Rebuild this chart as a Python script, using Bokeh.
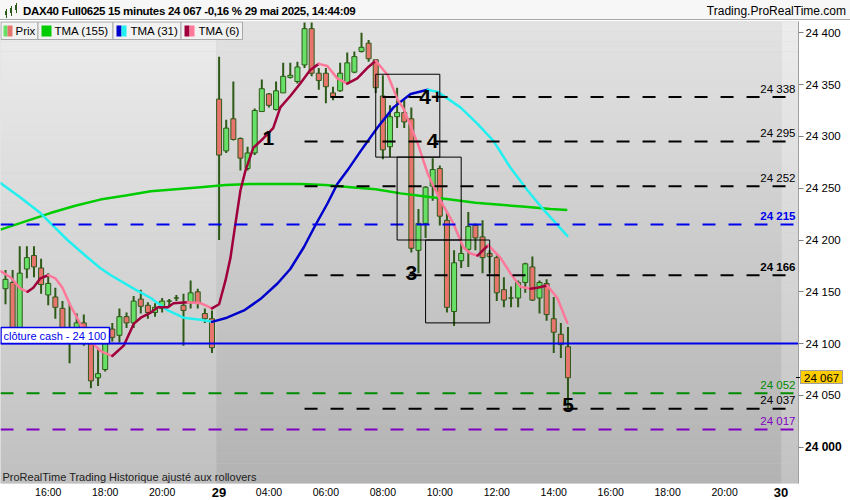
from bokeh.plotting import figure
from bokeh.models import Range1d, FixedTicker, Div
from bokeh.layouts import column
from bokeh.core.properties import value
from bokeh.embed import file_html
from bokeh.resources import INLINE

# ---------------- DAX40 Full0625, 15-minute bars (28 May 14:30 -> 29 May 14:30) ----------------
bar_open = [24153, 24159, 24113, 24172, 24185, 24173, 24147, 24145, 24134, 24110,
            24112, 24120, 24100, 24067, 24075, 24114, 24108, 24126, 24120, 24143,
            24137, 24130, 24134, 24141, 24144, 24137, 24140, 24150, 24129, 24124,
            24336, 24286, 24317, 24298, 24269, 24284, 24324, 24341, 24326, 24342,
            24357, 24353, 24369, 24404, 24361, 24361, 24342, 24344, 24352, 24362,
            24382, 24390, 24374, 24339, 24290, 24319, 24323, 24317, 24190, 24216,
            24252, 24269, 24219, 24131, 24180, 24191, 24214, 24203, 24187, 24183,
            24152, 24144, 24144, 24159, 24174, 24144, 24158, 24124, 24109, 24097]
bar_high = [24171, 24171, 24194, 24194, 24194, 24182, 24168, 24154, 24141, 24139,
            24129, 24128, 24104, 24096, 24102, 24120, 24134, 24130, 24146, 24152,
            24140, 24139, 24144, 24143, 24147, 24148, 24161, 24153, 24134, 24132,
            24377, 24316, 24353, 24299, 24290, 24327, 24355, 24342, 24353, 24371,
            24371, 24372, 24410, 24410, 24366, 24366, 24348, 24371, 24381, 24382,
            24400, 24393, 24374, 24359, 24330, 24347, 24335, 24328, 24230, 24252,
            24279, 24272, 24227, 24190, 24197, 24227, 24216, 24219, 24190, 24185,
            24164, 24155, 24161, 24178, 24184, 24161, 24162, 24145, 24120, 24116]
bar_low = [24138, 24109, 24107, 24163, 24164, 24148, 24137, 24124, 24108, 24081,
           24103, 24098, 24057, 24059, 24073, 24102, 24101, 24115, 24115, 24129,
           24124, 24126, 24130, 24135, 24141, 24098, 24134, 24134, 24120, 24091,
           24200, 24284, 24296, 24267, 24267, 24282, 24324, 24328, 24325, 24342,
           24356, 24351, 24366, 24358, 24345, 24332, 24335, 24343, 24350, 24361,
           24381, 24372, 24342, 24278, 24280, 24308, 24308, 24188, 24168, 24202,
           24238, 24214, 24130, 24117, 24173, 24174, 24190, 24168, 24168, 24141,
           24135, 24135, 24135, 24149, 24141, 24129, 24122, 24091, 24086, 24038]
bar_close = [24162, 24113, 24168, 24183, 24174, 24157, 24158, 24135, 24112, 24104,
             24120, 24103, 24064, 24071, 24100, 24106, 24126, 24120, 24141, 24136,
             24130, 24135, 24141, 24141, 24144, 24132, 24149, 24139, 24124, 24096,
             24282, 24308, 24297, 24279, 24284, 24325, 24346, 24330, 24344, 24358,
             24359, 24367, 24404, 24361, 24354, 24348, 24338, 24361, 24371, 24377,
             24386, 24375, 24347, 24287, 24319, 24323, 24314, 24192, 24216, 24251,
             24268, 24223, 24135, 24178, 24187, 24213, 24202, 24183, 24184, 24149,
             24142, 24144, 24159, 24177, 24142, 24159, 24128, 24111, 24099, 24067]

# time axis (bar index -> label)
time_tick_pos = [6, 14, 22, 30, 37, 45, 53, 61, 69, 77, 85, 93, 101, 109]
time_tick_labels = ["16:00", "18:00", "20:00", "29", "04:00", "06:00", "08:00",
                    "10:00", "12:00", "14:00", "16:00", "18:00", "20:00", "30"]
day_break_pos = [30, 109]

# price axis
price_ticks = [24000, 24050, 24100, 24150, 24200, 24250, 24300, 24350, 24400]
price_tick_labels = ["24 000", "24 050", "24 100", "24 150", "24 200",
                     "24 250", "24 300", "24 350", "24 400"]

# moving averages (bar index, price)
tma155_x = [-0.7, 2.8, 6.3, 9.8, 13.3, 16.9, 20.4, 23.9, 27.4, 30.9, 34.4, 37.9,
            41.4, 44.9, 48.5, 52.0, 55.5, 59.0, 62.5, 66.0, 69.5, 73.0, 76.5, 78.9]
tma155_y = [24210, 24218, 24226, 24233, 24239, 24243, 24247, 24249, 24251, 24253, 24254, 24254,
            24254, 24253, 24251, 24249, 24245, 24242, 24239, 24236, 24234, 24232, 24230, 24229]

tma31_x = [-0.7, 2.1, 4.9, 8.7, 11.2, 13.3, 14.8, 18.0, 20.4, 22.8, 25.0, 27.4, 29.0,
           31.1, 33.5, 35.8, 38.2, 40.0, 41.9, 43.5, 45.2, 46.6, 48.0, 49.9, 52.3,
           54.5, 56.9, 59.3, 60.7, 63.9, 66.3, 68.5, 70.9, 73.3, 75.6, 78.9]
tma31_y = [24255, 24241, 24226, 24200, 24185, 24173, 24166, 24153, 24144, 24132, 24125, 24123, 24121,
           24125, 24132, 24143, 24158, 24172, 24193, 24214, 24235, 24254, 24267, 24286, 24309,
           24328, 24341, 24345, 24343, 24328, 24312, 24296, 24270, 24248, 24229, 24204]

tma6_x = [-0.7, 0.7, 2.1, 3.1, 3.9, 4.9, 6.0, 7.0, 8.0, 9.1, 10.5, 11.9, 13.3, 15.0,
          16.6, 18.0, 19.0, 20.4, 21.4, 22.8, 23.6, 25.6, 27.4, 29.0, 30.0, 30.9,
          31.6, 32.3, 33.0, 33.7, 34.8, 36.2, 37.6, 38.6, 40.0, 41.4, 42.8, 44.0, 45.2,
          46.6, 48.0, 49.4, 50.8, 52.0, 53.7, 55.1, 55.9, 57.9, 59.3, 61.1, 62.9,
          64.3, 65.3, 66.3, 67.8, 69.5, 70.9, 72.3, 73.7, 74.7, 76.1, 77.5, 78.9]
tma6_y = [24170, 24164, 24153, 24150, 24154, 24163, 24166, 24163, 24154, 24137, 24119, 24103, 24093, 24088,
          24098, 24119, 24125, 24130, 24135, 24135, 24139, 24140, 24139, 24134, 24138, 24161,
          24183, 24216, 24248, 24267, 24289, 24298, 24308, 24328, 24339, 24351, 24364, 24370, 24368,
          24356, 24351, 24356, 24366, 24373, 24359, 24335, 24327, 24293, 24264, 24238, 24216,
          24193, 24187, 24185, 24195, 24183, 24168, 24155, 24153, 24154, 24156, 24144, 24120]

# horizontal levels
level_black = [24338, 24295, 24252, 24166, 24037]
level_black_bold = [False, False, False, True, False]
level_black_start = 42
level_blue = 24215
level_green = 24052
level_purple = 24017
cash_close = 24100
last_price = 24067

# zones
box_left = [52, 55, 59]
box_right = [61, 64, 68]
box_top = [24360, 24280, 24200]
box_bottom = [24280, 24200, 24120]

# wave counts
wave_text = ["1", "4+", "4", "3", "5"]
wave_x = [36.9, 59.8, 60.0, 57.0, 79.0]
wave_y = [24298, 24338, 24296, 24168, 24041]

# ---------------- layout helpers (page pixel -> data) ----------------
PX0, PX_PER_BAR = 5.0, 7.12
PY_REF, P_REF, PX_PER_PT = 32.3, 24400.0, 1.036
HEADER_H = 21


def bx(px):
    return (px - PX0) / PX_PER_BAR


def py(pix):
    return P_REF - (pix - PY_REF) / PX_PER_PT


def fmt(v):
    s = str(int(v))
    return s[:-3] + " " + s[-3:]


FONT = "Liberation Sans"

p = figure(width=850, height=500 - HEADER_H, output_backend="svg", toolbar_location=None,
           x_range=Range1d(bx(0), bx(798)), y_range=Range1d(py(483), py(HEADER_H)),
           y_axis_location="right", title=None,
           min_border_left=0, min_border_right=52, min_border_top=0, min_border_bottom=17)
p.xgrid.visible = False
p.ygrid.visible = False
p.outline_line_color = None
p.border_fill_color = "white"
p.background_fill_color = "#cccccc"

# ---------------- background: vertical grey gradient, lighter outside the current day ----------------
n_bands = 46
top_px, bot_px = float(HEADER_H), 483.0
for (x_a, x_b, c_top, c_bot) in [(bx(0), day_break_pos[0] - 0.4, 236, 192),
                                  (day_break_pos[0] - 0.4, day_break_pos[1], 227, 178),
                                  (day_break_pos[1], bx(798), 236, 194)]:
    lefts, rights, tops, bottoms, cols = [], [], [], [], []
    for i in range(n_bands):
        a = top_px + (bot_px - top_px) * i / n_bands
        b = top_px + (bot_px - top_px) * (i + 1) / n_bands
        t = (i + 0.5) / n_bands
        g = int(round(c_top + (c_bot - c_top) * t))
        lefts.append(x_a)
        rights.append(x_b)
        tops.append(py(a))
        bottoms.append(py(b) - 0.2)
        cols.append("#%02x%02x%02x" % (g, g, g))
    p.quad(left=lefts, right=rights, top=tops, bottom=bottoms, fill_color=cols, line_color=None)

# ---------------- candles ----------------
UP, DOWN, EDGE = "#66e066", "#e8756d", "#2e5a18"
idx = list(range(len(bar_open)))
body_top = [max(o, c) for o, c in zip(bar_open, bar_close)]
body_bot = [min(o, c) for o, c in zip(bar_open, bar_close)]
body_col = [UP if c >= o else DOWN for o, c in zip(bar_open, bar_close)]
p.segment(x0=idx, y0=bar_high, x1=idx, y1=bar_low, line_color=EDGE, line_width=2)
p.vbar(x=idx, width=0.7, top=body_top, bottom=body_bot, fill_color=body_col,
       line_color=EDGE, line_width=1)


# ---------------- moving averages, coloured by slope ----------------
def slope_runs(xs, ys):
    runs = []
    cx, cy = [xs[0]], [ys[0]]
    cur = ys[1] >= ys[0]
    for i in range(1, len(xs)):
        up = ys[i] >= ys[i - 1]
        if up != cur:
            runs.append((cx, cy, cur))
            cx, cy = [xs[i - 1]], [ys[i - 1]]
            cur = up
        cx.append(xs[i])
        cy.append(ys[i])
    runs.append((cx, cy, cur))
    return runs


p.line(tma155_x, tma155_y, line_color="#00cc00", line_width=2.5)
for xs, ys, (c_up, c_dn) in [(tma31_x, tma31_y, ("#0000cc", "#22f0f0")),
                              (tma6_x, tma6_y, ("#a0003c", "#ff7799"))]:
    runs = slope_runs(xs, ys)
    p.multi_line(xs=[r[0] for r in runs], ys=[r[1] for r in runs],
                 line_color=[c_up if r[2] else c_dn for r in runs], line_width=2.5,
                 line_join="round", line_cap="round")

# ---------------- horizontal levels ----------------
x_left, x_right = bx(0), bx(798)
p.segment(x0=[level_black_start] * len(level_black), y0=level_black,
          x1=[x_right] * len(level_black), y1=level_black,
          line_color="black", line_width=2, line_dash="13 13")
p.segment(x0=[x_left] * 3, y0=[level_blue, level_green, level_purple],
          x1=[x_right] * 3, y1=[level_blue, level_green, level_purple],
          line_color=["#0000ee", "#008a00", "#8000c0"], line_width=2, line_dash="13 13")
p.segment(x0=[x_left], y0=[cash_close], x1=[x_right], y1=[cash_close],
          line_color="#0000ee", line_width=2)

lab_x = bx(795)
lift = 2.5 / PX_PER_PT
for lv, bold in zip(level_black, level_black_bold):
    p.text(x=[lab_x], y=[lv + lift], text=[fmt(lv)], text_align="right", text_baseline="bottom",
           text_font=value(FONT), text_font_size="11.5px", text_color="black",
           text_font_style="bold" if bold else "normal")
for lv, col, bold in [(level_blue, "#0000ee", True), (level_green, "#008a00", False),
                      (level_purple, "#8000c0", False)]:
    p.text(x=[lab_x], y=[lv + lift], text=[fmt(lv)], text_align="right", text_baseline="bottom",
           text_font=value(FONT), text_font_size="11.5px", text_color=col,
           text_font_style="bold" if bold else "normal")

# cash close tag
p.quad(left=[bx(0.5)], right=[bx(109)], top=[py(327)], bottom=[cash_close],
       fill_color="white", line_color="#0000ee", line_width=1.5)
p.text(x=[bx(3)], y=[py(335)], text=["clôture cash -  " + fmt(cash_close)],
       text_baseline="middle", text_font=value(FONT), text_font_size="11px", text_color="#0000ee")

# zones
p.quad(left=box_left, right=box_right, top=box_top, bottom=box_bottom,
       fill_color=None, line_color="black", line_width=1)

# wave counts
p.text(x=wave_x, y=wave_y, text=wave_text, text_align="center", text_baseline="middle",
       text_font=value(FONT), text_font_size="21px", text_font_style="bold", text_color="black")

# ---------------- indicator legend (top left) ----------------
leg_l = [0.5, 37.5, 112.5, 180.5]
leg_r = [37.5, 112.5, 180.5, 242]
p.quad(left=[bx(v) for v in leg_l], right=[bx(v) for v in leg_r], top=[py(21.5)] * 4,
       bottom=[py(39)] * 4, fill_color="#f2f2f2", line_color="#a8a8a8", line_width=1)
sw = [(3, 7, UP), (7, 12, DOWN), (41, 51, "#00cc00"), (116, 121, "#0000cc"),
      (121, 126, "#22f0f0"), (184, 189, "#a0003c"), (189, 194, "#ff7799")]
p.quad(left=[bx(a) for a, b, c in sw], right=[bx(b) for a, b, c in sw], top=[py(25)] * len(sw),
       bottom=[py(36)] * len(sw), fill_color=[c for a, b, c in sw], line_color=None)
p.text(x=[bx(15), bx(54), bx(130), bx(198)], y=[py(30.5)] * 4,
       text=["Prix", "TMA (155)", "TMA (31)", "TMA (6)"], text_baseline="middle",
       text_font=value(FONT), text_font_size="11.5px", text_color="black")

p.text(x=[bx(2)], y=[py(476)], text=["ProRealTime Trading  Historique ajusté aux rollovers"],
       text_baseline="middle", text_font=value(FONT), text_font_size="11px", text_color="#202020")

# ---------------- axes ----------------
ya = p.yaxis[0]
ya.ticker = FixedTicker(ticks=price_ticks + [last_price])
y_overrides = {t: ("" if t == 24000 else lab) for t, lab in zip(price_ticks, price_tick_labels)}
y_overrides[last_price] = ""
ya.major_label_overrides = y_overrides
ya.axis_line_color = "#a0a0a0"
ya.major_tick_line_color = "#808080"
ya.major_tick_out = 5
ya.major_tick_in = 0
ya.minor_tick_line_color = None
ya.major_label_standoff = 2
ya.major_label_text_font = FONT
ya.major_label_text_font_size = "11.5px"
ya.major_label_text_color = "black"

xa = p.xaxis[0]
xa.ticker = FixedTicker(ticks=time_tick_pos)
xa.major_label_overrides = {t: ("" if t in day_break_pos else lab)
                            for t, lab in zip(time_tick_pos, time_tick_labels)}
xa.axis_line_color = None
xa.major_tick_line_color = None
xa.major_tick_out = 0
xa.major_tick_in = 0
xa.minor_tick_line_color = None
xa.minor_tick_out = 0
xa.major_label_standoff = 2
xa.major_label_text_font = FONT
xa.major_label_text_font_size = "10.5px"
xa.major_label_text_color = "black"

# ---------------- header bar and tags drawn over the axis margins ----------------
day_tags = "".join(
    '<span style="position:absolute;left:%dpx;top:484px;transform:translateX(-50%%);'
    'font-weight:bold;font-size:13px;">%s</span>' % (round(PX0 + pos * PX_PER_BAR), lab)
    for pos, lab in zip(time_tick_pos, time_tick_labels) if pos in day_break_pos)
icon = "".join(
    '<span style="position:absolute;left:%dpx;top:%dpx;width:1px;height:%dpx;background:#2e5a18;"></span>'
    '<span style="position:absolute;left:%dpx;top:%dpx;width:2px;height:%dpx;background:#66e066;'
    'border:1px solid #2e5a18;"></span>' % (x + 1, t - 2, h + 5, x, t, h)
    for x, t, h in [(5, 11, 4), (10, 8, 5), (15, 5, 5)])
header_html = (
    '<div style="position:relative;width:850px;height:20px;background:#f7f7f7;'
    'border-bottom:1px solid #a8a8a8;font-family:\'Liberation Sans\',Arial,sans-serif;'
    'font-size:12px;color:#000;z-index:5;">'
    + icon +
    '<span style="position:absolute;left:23px;top:3px;font-weight:bold;font-size:11.5px;'
    'letter-spacing:-0.3px;white-space:nowrap;">'
    'DAX40 Full0625 15 minutes 24 067 -0,16 % 29 mai 2025, 14:44:09</span>'
    '<span style="position:absolute;right:4px;top:3px;white-space:nowrap;">Trading.ProRealTime.com</span>'
    '<span style="position:absolute;left:796px;top:377px;width:4px;height:1px;background:#000;"></span>'
    '<span style="position:absolute;left:800px;top:370px;height:14px;line-height:14px;padding:0 3px;'
    'background:#ffcc00;border:1px solid #a0a0a0;font-size:11.5px;white-space:nowrap;">'
    + fmt(last_price) + '</span>'
    '<span style="position:absolute;left:805px;top:439px;font-weight:bold;font-size:12px;'
    'white-space:nowrap;">' + price_tick_labels[0] + '</span>'
    + day_tags +
    '</div>')
header = Div(text=header_html, width=850, height=HEADER_H, margin=0,
             styles={"overflow": "visible", "z-index": "5"})

layout = column(header, p, spacing=0)
open("out.html", "w").write(file_html(layout, INLINE))
